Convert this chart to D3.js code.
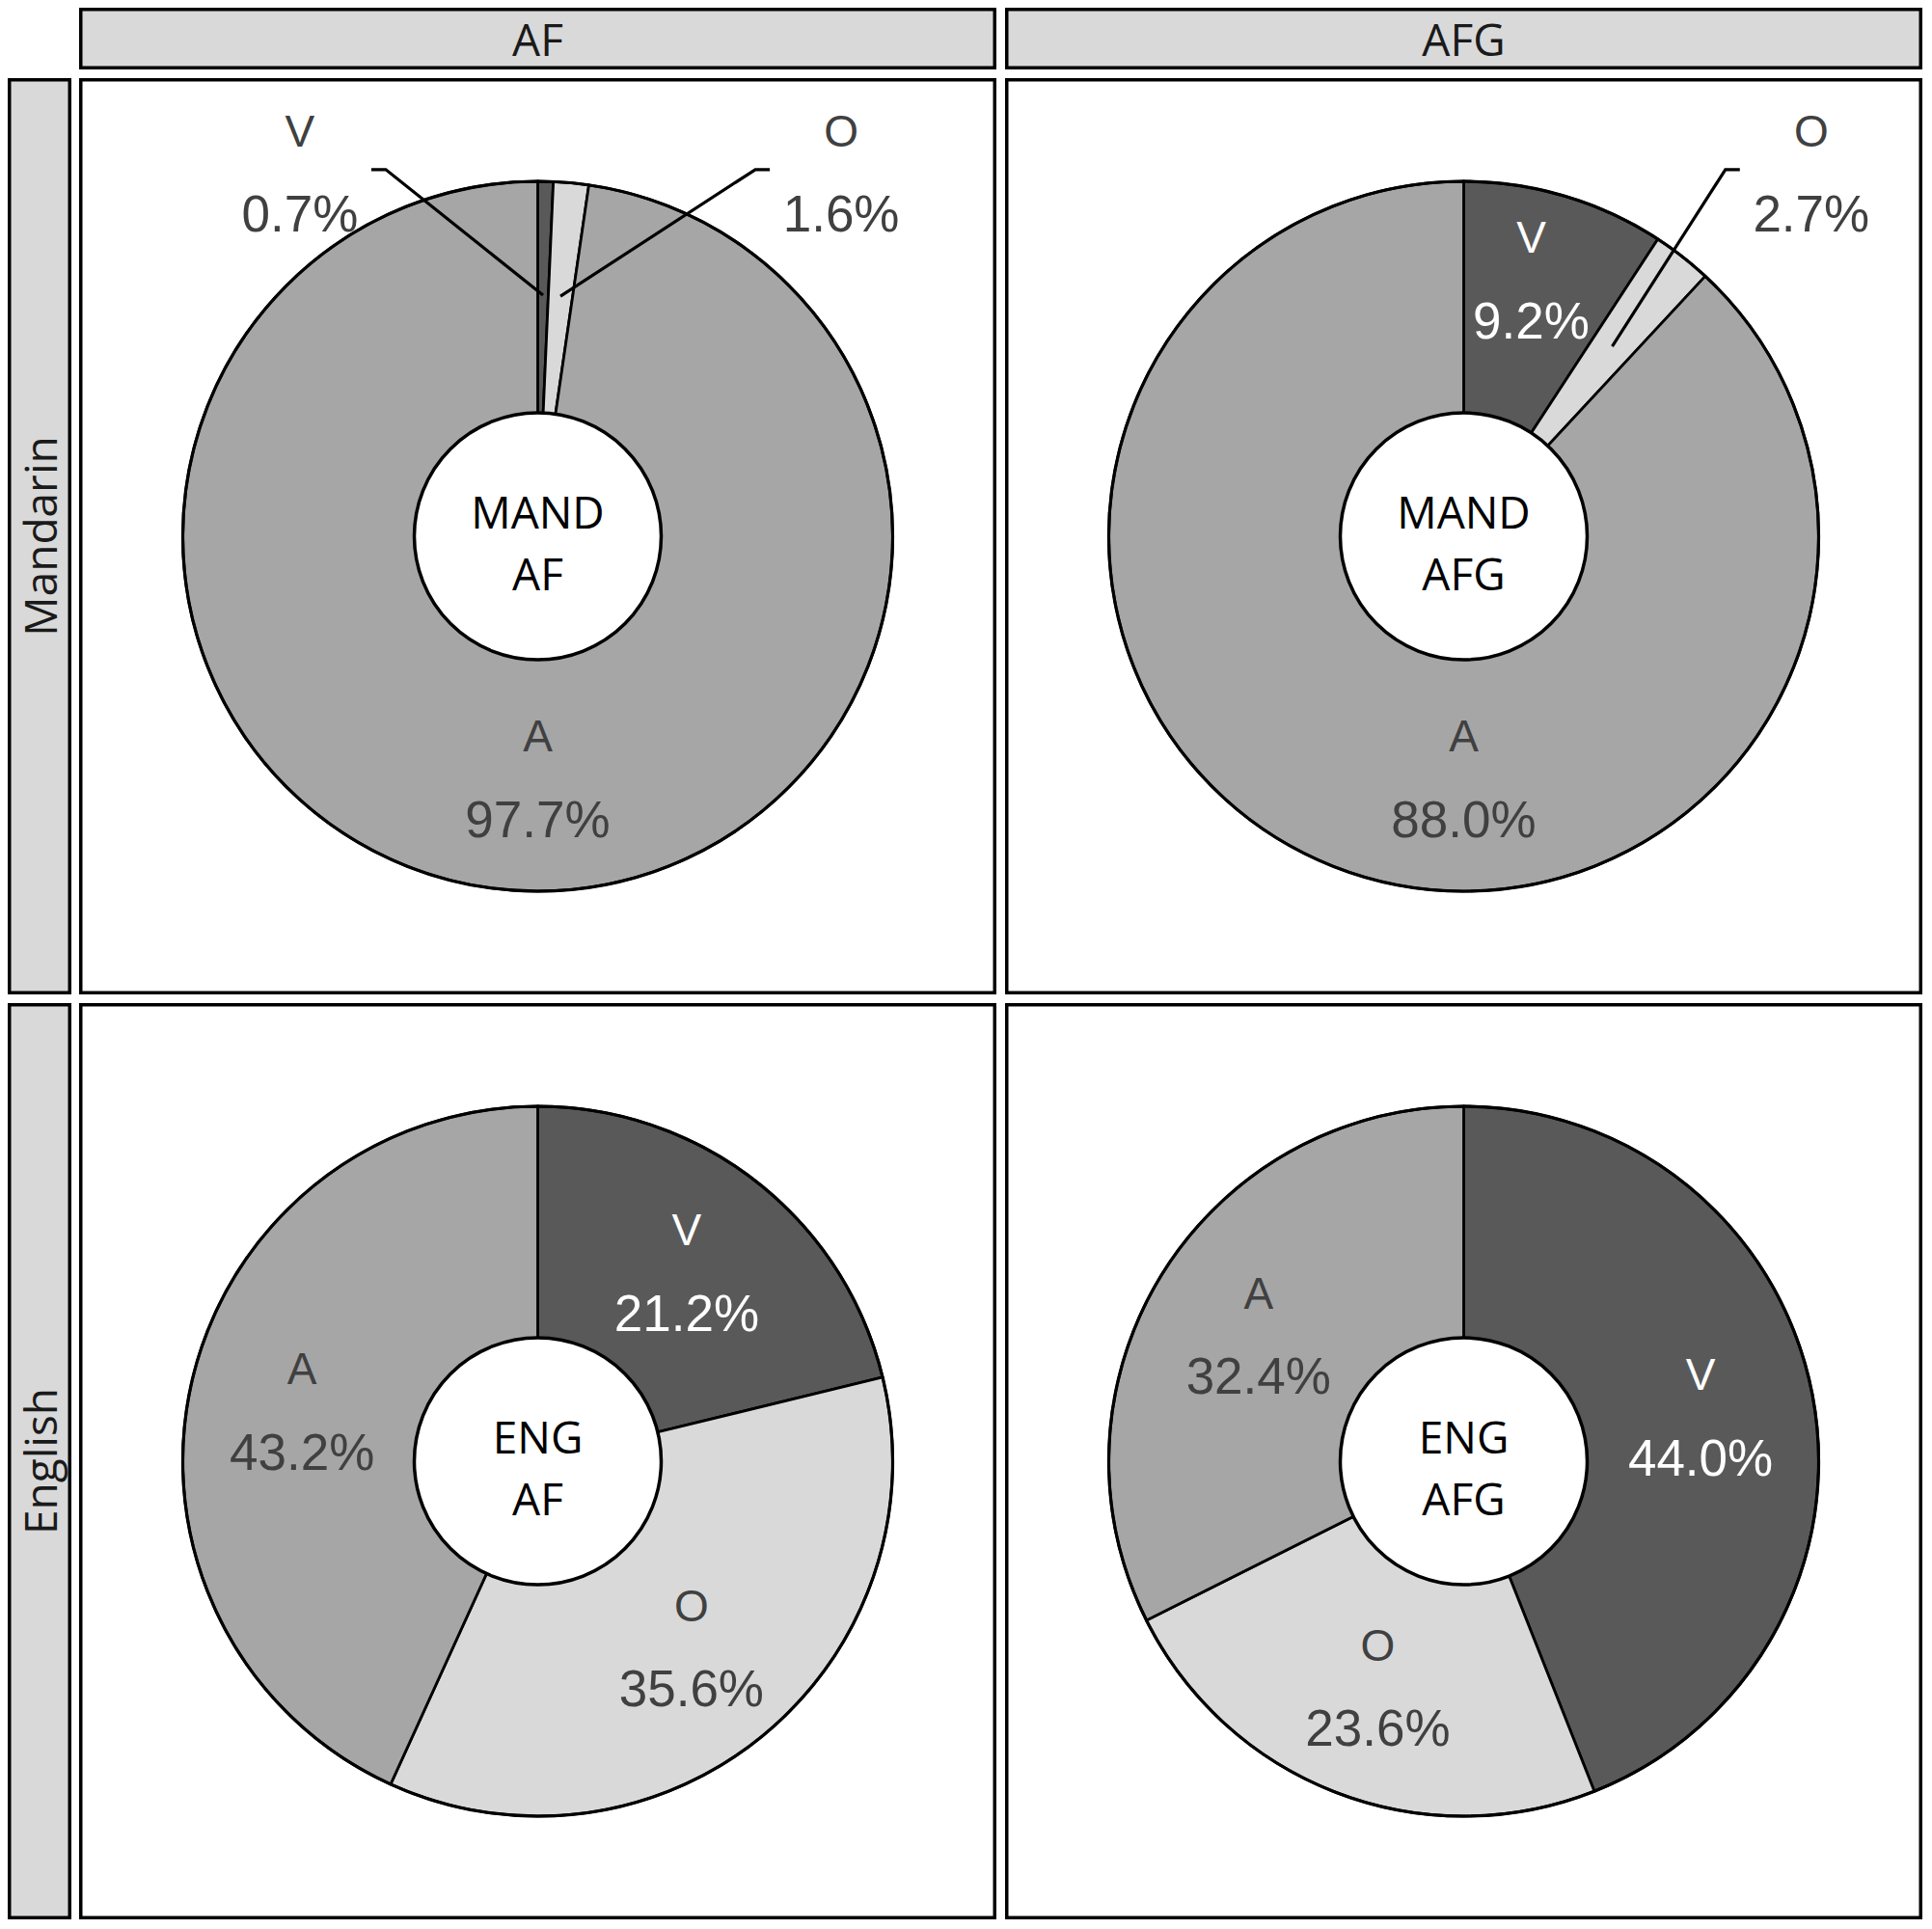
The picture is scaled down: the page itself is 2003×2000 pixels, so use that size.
<!DOCTYPE html>
<html><head><meta charset="utf-8">
<script src="https://cdn.jsdelivr.net/npm/d3@7"></script>
<style>body{margin:0;background:#fff} svg{display:block}</style>
</head><body>
<script>
// ---- data ----
const columns = ["AF", "AFG"];
const rows = ["Mandarin", "English"];
const rowCodes = ["MAND", "ENG"];
const categories = ["V", "O", "A"];
const mandarinAF = [0.7, 1.6, 97.7];
const mandarinAFG = [9.2, 2.7, 88.0];
const englishAF = [21.2, 35.6, 43.2];
const englishAFG = [44.0, 23.6, 32.4];
const panelValues = [[mandarinAF, mandarinAFG], [englishAF, englishAFG]];

// ---- layout ----
const W = 2003, H = 2000;
const svg = d3.select("body").append("svg").attr("width", W).attr("height", H);
const sw = 3.5, hs = sw / 2;

const x = d3.scaleBand().domain(columns).range([82, 1993]).paddingInner(9 / 960);
const y = d3.scaleBand().domain(rows).range([81, 1990]).paddingInner(9 / 959);
const stripTop = 8, stripBottom = 72, stripLeft = 8, stripRight = 74;

const color = d3.scaleOrdinal().domain(categories).range(["#595959", "#d9d9d9", "#a6a6a6"]);
const textColor = d3.scaleOrdinal().domain(categories).range(["#ffffff", "#404040", "#404040"]);

const R = 368, hole = 128, rIn = 250, rInNarrow = 0.75 * R, outY = 1.025 * R;
const pie = d3.pie().sort(null).value(d => d.value);
const arc = d3.arc().innerRadius(0).outerRadius(R);
const fmt = v => d3.format(".1f")(v) + "%";
const deg = Math.PI / 180;
const letterFont = "'Liberation Sans', Arial, sans-serif";
const stripFont = "'Open Sans', sans-serif";

// column strips
columns.forEach(c => {
  const g = svg.append("g");
  g.append("rect").attr("x", x(c) + hs).attr("y", stripTop + hs)
    .attr("width", x.bandwidth() - sw).attr("height", stripBottom - stripTop - sw)
    .attr("fill", "#d9d9d9").attr("stroke", "#000").attr("stroke-width", sw);
  g.append("text").attr("x", x(c) + x.bandwidth() / 2).attr("y", (stripTop + stripBottom) / 2)
    .attr("text-anchor", "middle").attr("dominant-baseline", "central")
    .attr("font-family", stripFont).attr("font-size", 46).attr("fill", "#1a1a1a").text(c);
});
// row strips
rows.forEach(r => {
  const g = svg.append("g");
  g.append("rect").attr("x", stripLeft + hs).attr("y", y(r) + hs)
    .attr("width", stripRight - stripLeft - sw).attr("height", y.bandwidth() - sw)
    .attr("fill", "#d9d9d9").attr("stroke", "#000").attr("stroke-width", sw);
  const cx = (stripLeft + stripRight) / 2, cy = y(r) + y.bandwidth() / 2;
  g.append("text").attr("transform", `translate(${cx},${cy}) rotate(-90)`)
    .attr("text-anchor", "middle").attr("dominant-baseline", "central")
    .attr("font-family", stripFont).attr("font-size", 46).attr("fill", "#1a1a1a").text(r);
});

rows.forEach((r, ri) => {
  columns.forEach((c, ci) => {
    const vals = panelValues[ri][ci];
    const data = categories.map((k, i) => ({ key: k, value: vals[i] }));
    const px = x(c), py = y(r);
    svg.append("rect").attr("x", px + hs).attr("y", py + hs)
      .attr("width", x.bandwidth() - sw).attr("height", y.bandwidth() - sw)
      .attr("fill", "#fff").attr("stroke", "#000").attr("stroke-width", sw);
    const cx = px + x.bandwidth() / 2, cy = py + y.bandwidth() / 2;
    const g = svg.append("g").attr("transform", `translate(${cx},${cy})`);
    const arcs = pie(data);

    g.selectAll("path.slice").data(arcs).join("path").attr("class", "slice")
      .attr("d", arc).attr("fill", d => color(d.data.key))
      .attr("stroke", "#000").attr("stroke-width", 2.8).attr("stroke-linejoin", "round");
    g.append("circle").attr("r", R).attr("fill", "none").attr("stroke", "#000").attr("stroke-width", 3.2);

    // label layout
    const mid = d => (d.startAngle + d.endAngle) / 2;
    const outs = arcs.filter(d => d.data.value < 5);
    const ins = arcs.filter(d => d.data.value >= 5);
    ins.forEach(d => {
      d.la = d.data.value > 75 ? Math.PI : mid(d);
      d.lr = d.data.value < 12 ? rInNarrow : rIn;
    });
    outs.forEach(d => { d.la = mid(d); });
    const norm = a => { while (a > Math.PI) a -= 2 * Math.PI; while (a < -Math.PI) a += 2 * Math.PI; return a; };
    for (let it = 0; it < 200; it++) {
      for (let i = 0; i < outs.length; i++) for (let j = i + 1; j < outs.length; j++) {
        const diff = norm(outs[j].la - outs[i].la), need = 73 * deg;
        if (Math.abs(diff) < need) {
          const s = diff >= 0 ? 1 : -1, p = (need - Math.abs(diff)) / 2 * s;
          outs[i].la -= p; outs[j].la += p;
        }
      }
      outs.forEach(o => ins.forEach(s => {
        const diff = norm(o.la - s.la), need = 29 * deg;
        if (Math.abs(diff) < need) {
          const p = (need - Math.abs(diff)) * (diff >= 0 ? 1 : -1);
          o.la += 0.75 * p; s.la -= 0.25 * p;
        }
      }));
    }
    ins.forEach(d => { d.lx = d.lr * Math.sin(d.la); d.ly = -d.lr * Math.cos(d.la); });
    // outside labels sit on a common level just beyond the pie
    outs.forEach(d => {
      const up = Math.cos(d.la) >= 0 ? -1 : 1;
      d.ly = up * outY;
      d.lx = outY * Math.tan(d.la) * (up < 0 ? 1 : -1);
    });

    // leader lines
    outs.forEach(d => {
      const a = mid(d);
      const p0 = [rIn * Math.sin(a), -rIn * Math.cos(a)];
      const side = d.lx < 0 ? 1 : -1;
      const pts = [p0, [d.lx + side * 89, d.ly - 3], [d.lx + side * 74, d.ly - 3]];
      g.append("path").attr("d", d3.line()(pts)).attr("fill", "none")
        .attr("stroke", "#000").attr("stroke-width", 3.2);
    });

    // hole
    g.append("circle").attr("r", hole).attr("fill", "#fff").attr("stroke", "#000").attr("stroke-width", 3.5);
    g.append("text").attr("x", 0).attr("y", -8).attr("text-anchor", "middle")
      .attr("font-family", stripFont).attr("font-size", 46).attr("fill", "#000").text(rowCodes[ri]);
    g.append("text").attr("x", 0).attr("y", 56).attr("text-anchor", "middle")
      .attr("font-family", stripFont).attr("font-size", 46).attr("fill", "#000").text(c);

    // labels
    arcs.forEach(d => {
      const col = d.data.value < 5 ? "#404040" : textColor(d.data.key);
      g.append("text").attr("x", d.lx).attr("y", d.ly - 43)
        .attr("text-anchor", "middle").attr("dominant-baseline", "central")
        .attr("font-family", letterFont).attr("font-size", 46).attr("fill", col).text(d.data.key);
      g.append("text").attr("x", d.lx).attr("y", d.ly + 43)
        .attr("text-anchor", "middle").attr("dominant-baseline", "central")
        .attr("font-family", letterFont).attr("font-size", 53).attr("fill", col).text(fmt(d.data.value));
    });
  });
});
</script>
</body></html>
